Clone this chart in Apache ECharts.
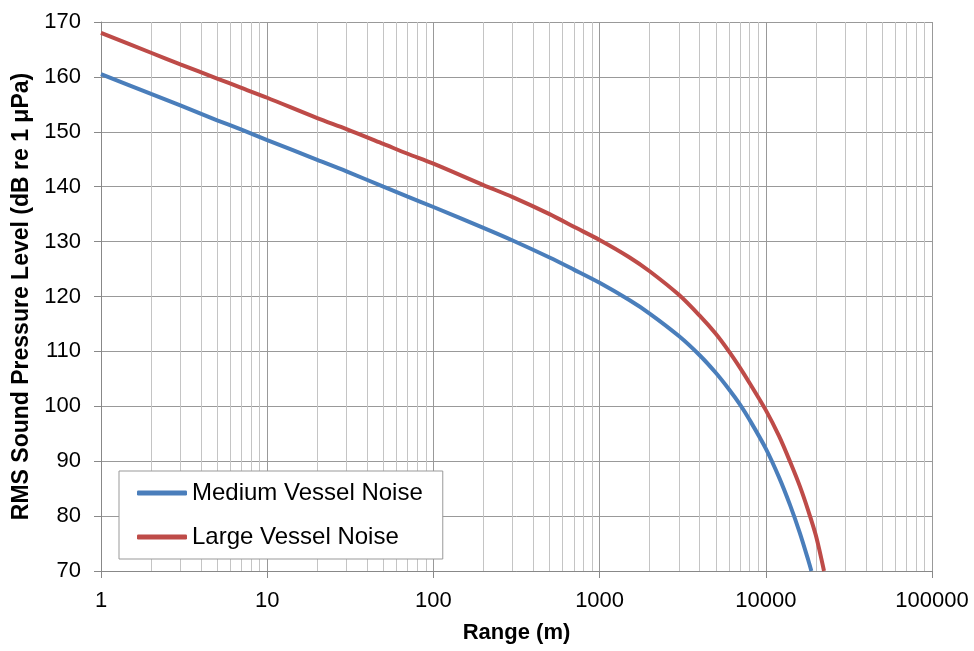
<!DOCTYPE html>
<html><head><meta charset="utf-8">
<script src="https://cdn.jsdelivr.net/npm/echarts@6/dist/echarts.min.js"></script>
<style>html,body{margin:0;padding:0;background:#fff}#c{width:974px;height:651px}</style>
</head><body><div id="c"></div>
<script>
var ranges = [1,2,3,5,7,10,20,30,50,70,100,200,300,500,700,1000,1500,2000,3000,4000,5000,6000,7000,8000,10000,12000,14000,16000,18000,20000,22400];
var mediumVessel = [160.5,156.9,154.8,152.1,150.4,148.5,144.9,142.8,140.0,138.2,136.3,132.5,130.2,127.1,124.9,122.5,119.4,116.9,112.8,109.3,106.1,103.1,100.3,97.5,92.3,87.1,82.0,77.0,72.0,null,null];
var largeVessel = [168.0,164.4,162.3,159.7,158.0,156.2,152.5,150.5,147.8,146.0,144.2,140.3,138.1,135.0,132.7,130.3,127.2,124.6,120.3,116.5,113.2,110.0,107.0,104.2,99.3,94.6,89.9,85.5,81.0,76.5,70.0];
var mediumEnd = [18800, 70];
var seriesNames = ['Medium Vessel Noise','Large Vessel Noise'];
var xTitle = 'Range (m)';
var yTitle = 'RMS Sound Pressure Level (dB re 1 μPa)';

function pairs(xs, ys){ var out=[]; for(var i=0;i<xs.length;i++){ if(ys[i]!=null) out.push([xs[i],ys[i]]);} return out; }
var medData = pairs(ranges, mediumVessel); medData.push(mediumEnd);
var lgData = pairs(ranges, largeVessel);

var chart = echarts.init(document.getElementById('c'));
var font = 'Arial, "Liberation Sans", sans-serif';
chart.setOption({
  animation:false,
  backgroundColor:'#fff',
  grid:{left:101,right:42,top:22,bottom:80,containLabel:false},
  xAxis:{type:'log',logBase:10,min:1,max:100000,
    name:xTitle,nameLocation:'middle',nameGap:51,
    nameTextStyle:{fontFamily:font,fontSize:22,fontWeight:'bold',color:'#000'},
    axisLine:{lineStyle:{color:'#888',width:1}},
    axisTick:{show:true,length:7,lineStyle:{color:'#888'}},
    axisLabel:{fontFamily:font,fontSize:22,color:'#000',margin:19,formatter:function(v){return String(Math.round(v));}},
    splitLine:{show:true,lineStyle:{color:'#999',width:1}},
    minorTick:{show:false,splitNumber:9},
    minorSplitLine:{show:true,lineStyle:{color:'#c4c4c4',width:1}}
  },
  yAxis:{type:'value',min:70,max:170,interval:10,
    name:yTitle,nameLocation:'middle',nameGap:66,nameRotate:90,
    nameTextStyle:{fontFamily:font,fontSize:23,fontWeight:'bold',color:'#000'},
    axisLine:{show:true,lineStyle:{color:'#888',width:1}},
    axisTick:{show:true,length:7,lineStyle:{color:'#888'}},
    axisLabel:{fontFamily:font,fontSize:22,color:'#000',margin:20},
    splitLine:{show:true,lineStyle:{color:'#999',width:1}}
  },
  legend:{orient:'vertical',left:119,top:471,
    padding:[10,20,10,18],itemGap:20,itemWidth:50,itemHeight:5,
    backgroundColor:'#fff',borderColor:'#999',borderWidth:1,
    textStyle:{fontFamily:font,fontSize:24,color:'#000'},
    data:[{name:seriesNames[0],icon:'roundRect'},{name:seriesNames[1],icon:'roundRect'}]
  },
  series:[
    {name:seriesNames[0],type:'line',data:medData,smooth:0.3,showSymbol:false,symbol:'none',
     lineStyle:{color:'#4A7EBB',width:4},itemStyle:{color:'#4A7EBB'},clip:true},
    {name:seriesNames[1],type:'line',data:lgData,smooth:0.3,showSymbol:false,symbol:'none',
     lineStyle:{color:'#BE4B48',width:4},itemStyle:{color:'#BE4B48'},clip:true}
  ]
});
</script></body></html>
